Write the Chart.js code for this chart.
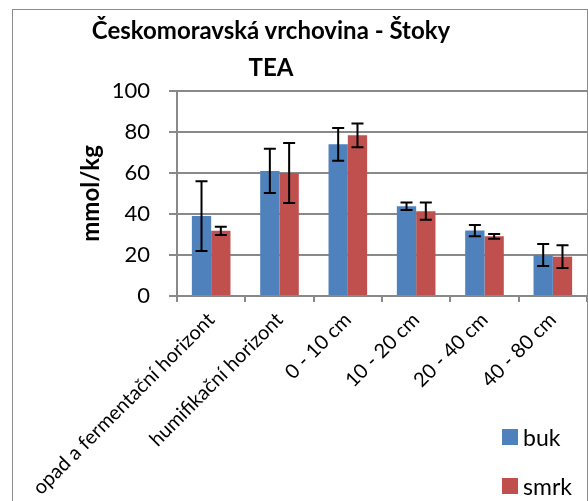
<!DOCTYPE html>
<html lang="cs">
<head>
    <meta charset="UTF-8">
    <title>Českomoravská vrchovina - Štoky TEA</title>
    <script src="https://cdn.jsdelivr.net/npm/chart.js"></script>
    <style>
        body {
            margin: 0;
            background: #fff;
            font-family: Lato, sans-serif;
        }
        #wrap {
            position: relative;
            width: 588px;
            height: 501px;
            overflow: hidden;
        }
        #frame {
            position: absolute;
            left: 12px;
            top: 9px;
            width: 576px;
            height: 600px;
            border: 1.5px solid #8c8c8c;
            box-sizing: border-box;
            pointer-events: none;
        }
        #title {
            position: absolute;
            left: 71px;
            width: 400px;
            top: 11px;
            text-align: center;
            font-weight: bold;
            font-size: 24px;
            line-height: 37px;
            color: #000;
        }
        .item {
            position: absolute;
            left: 502px;
            display: flex;
            align-items: center;
            font-size: 23px;
            color: #000;
        }
        .box {
            width: 16px;
            height: 16px;
            margin-right: 5px;
        }
    </style>
</head>
<body>
    <div id="wrap">
        <canvas id="chart" width="588" height="501"></canvas>
        <div id="frame"></div>
        <div id="title">Českomoravská vrchovina - Štoky<br>TEA</div>
        <div id="legend"></div>
    </div>

    <script>
        let categories = ["opad a fermentační horizont", "humifikační horizont", "0 - 10 cm", "10 - 20 cm", "20 - 40 cm", "40 - 80 cm"];
        let buk = [39, 61, 74, 43.8, 31.9, 20];
        let bukErr = [17, 10.8, 8, 1.8, 2.7, 5.4];
        let smrk = [31.8, 60, 78.4, 41.4, 29.1, 19.2];
        let smrkErr = [2, 14.6, 5.8, 4.2, 1.2, 5.5];
        let yTicks = [0, 20, 40, 60, 80, 100];

        let gridColor = "#898989";

        // error bars drawn on top of the bars from the y scale
        let errorBars = {
            id: "errorBars",
            afterDatasetsDraw(chart) {
                let ctx = chart.ctx;
                let y = chart.scales.y;
                ctx.save();
                ctx.strokeStyle = "#000";
                ctx.lineWidth = 2;
                chart.data.datasets.forEach((ds, di) => {
                    chart.getDatasetMeta(di).data.forEach((bar, i) => {
                        let top = y.getPixelForValue(ds.data[i] + ds.errors[i]);
                        let bot = y.getPixelForValue(ds.data[i] - ds.errors[i]);
                        ctx.beginPath();
                        ctx.moveTo(bar.x, top);
                        ctx.lineTo(bar.x, bot);
                        ctx.moveTo(bar.x - 6, top);
                        ctx.lineTo(bar.x + 6, top);
                        ctx.moveTo(bar.x - 6, bot);
                        ctx.lineTo(bar.x + 6, bot);
                        ctx.stroke();
                    });
                });
                ctx.restore();
            }
        };

        let chart = new Chart(document.getElementById("chart"), {
            type: "bar",
            data: {
                labels: categories,
                datasets: [
                    { label: "buk", data: buk, errors: bukErr, backgroundColor: "#4F81BD" },
                    { label: "smrk", data: smrk, errors: smrkErr, backgroundColor: "#C0504D" }
                ]
            },
            options: {
                responsive: false,
                animation: false,
                layout: { padding: { top: 91, right: 1, left: 0, bottom: 0 } },
                datasets: { bar: { categoryPercentage: 0.565, barPercentage: 1 } },
                plugins: {
                    legend: { display: false },
                    title: { display: false },
                    tooltip: { enabled: false }
                },
                scales: {
                    x: {
                        afterFit(scale) { scale.height = 205; },
                        grid: { display: true, drawOnChartArea: false, drawTicks: true, tickLength: 6, color: gridColor, lineWidth: 2, offset: true },
                        border: { color: gridColor, width: 2 },
                        ticks: {
                            color: "#000",
                            font: { family: "Lato", size: 20 },
                            minRotation: 45,
                            maxRotation: 45,
                            autoSkip: false,
                            padding: 6
                        }
                    },
                    y: {
                        min: yTicks[0],
                        max: yTicks[yTicks.length - 1],
                        afterFit(scale) { scale.width = 177; },
                        afterBuildTicks(scale) { scale.ticks = yTicks.map(v => ({ value: v })); },
                        grid: { color: gridColor, lineWidth: 2, tickLength: 8 },
                        border: { color: gridColor, width: 2 },
                        ticks: {
                            color: "#000",
                            font: { family: "Lato", size: 22 },
                            padding: 19
                        },
                        title: {
                            display: true,
                            text: "mmol/kg",
                            color: "#000",
                            font: { family: "Lato", size: 24, weight: "bold" },
                            padding: { top: 77, bottom: 0 }
                        }
                    }
                }
            },
            plugins: [errorBars]
        });

        // legend as html, built from the datasets
        let legend = document.getElementById("legend");
        let legendTops = [423, 472];
        chart.data.datasets.forEach((ds, i) => {
            legend.innerHTML += `<div class="item" style="top:${legendTops[i]}px">
                <div class="box" style="background:${ds.backgroundColor}"></div>${ds.label}</div>`;
        });
    </script>
</body>
</html>
